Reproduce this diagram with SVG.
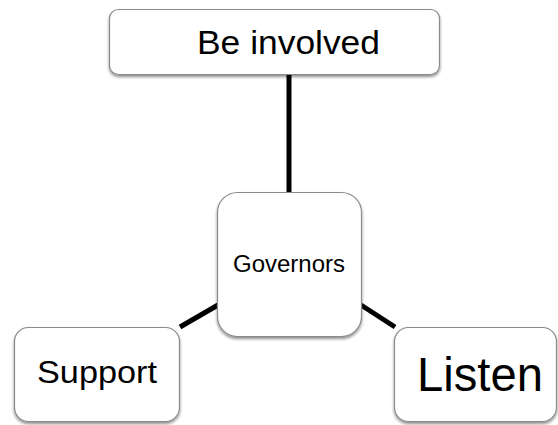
<svg xmlns="http://www.w3.org/2000/svg" width="558" height="425" viewBox="0 0 558 425">
<defs>
<filter id="sh" x="-10%" y="-10%" width="120%" height="130%">
<feGaussianBlur in="SourceAlpha" stdDeviation="1.5"/>
<feOffset dx="0" dy="2" result="b"/>
<feComponentTransfer><feFuncA type="linear" slope="0.45"/></feComponentTransfer>
<feMerge><feMergeNode/><feMergeNode in="SourceGraphic"/></feMerge>
</filter>
</defs>
<style>
.box{fill:#fff;stroke:#8a8a8a;stroke-width:1.2;filter:url(#sh)}
.t{font-family:"Liberation Sans",Arial,sans-serif;fill:#000}
.c{stroke:#000;stroke-width:5;fill:none}
</style>
<rect width="558" height="425" fill="#fff"/>
<g id="connectors">
<line class="c" x1="289" y1="75" x2="289" y2="193"/>
<line class="c" x1="180" y1="327" x2="218" y2="305"/>
<line class="c" x1="361" y1="305" x2="395" y2="327"/>
</g>
<g id="be-involved">
<rect class="box" x="109.5" y="9.5" width="330" height="65" rx="9"/>
<text class="t" x="197" y="54" font-size="34" textLength="183" lengthAdjust="spacingAndGlyphs">Be involved</text>
</g>
<g id="governors">
<rect class="box" x="217.5" y="192.5" width="144" height="144" rx="20"/>
<text class="t" x="233" y="272" font-size="23" textLength="112" lengthAdjust="spacingAndGlyphs">Governors</text>
</g>
<g id="support">
<rect class="box" x="14.5" y="327.5" width="165" height="94" rx="14"/>
<text class="t" x="37" y="383" font-size="32" textLength="120" lengthAdjust="spacingAndGlyphs">Support</text>
</g>
<g id="listen">
<rect class="box" x="394.5" y="327.5" width="162" height="94" rx="14"/>
<text class="t" x="417" y="391" font-size="48" textLength="126" lengthAdjust="spacingAndGlyphs">Listen</text>
</g>
</svg>
